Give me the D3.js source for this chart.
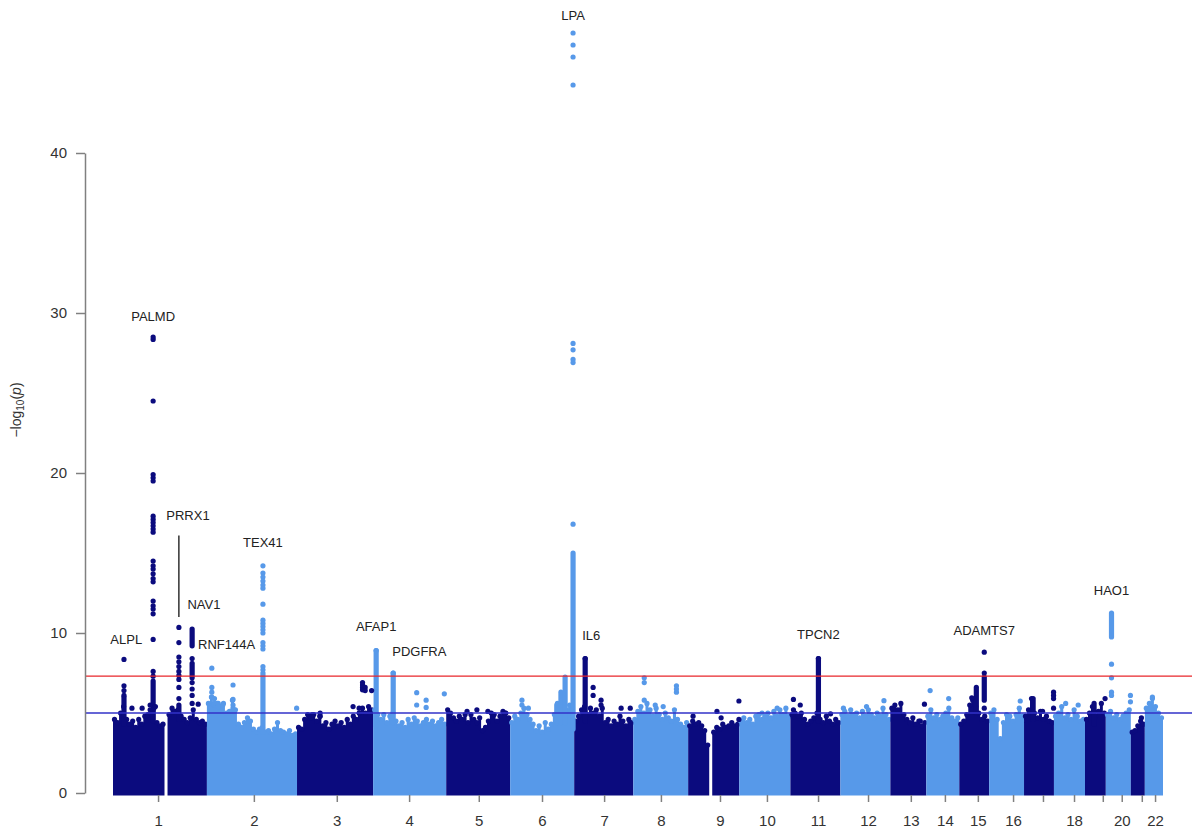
<!DOCTYPE html>
<html>
<head>
<meta charset="utf-8">
<script src="https://cdn.jsdelivr.net/npm/d3@7/dist/d3.min.js"></script>
<style>
body { margin: 0; background: #fff; }
#graphic1 text { font-family: "Liberation Sans", Arial, Helvetica, sans-serif; }
</style>
</head>
<body>
<div id="graphic1"></div>
<script>
// chromosome spans (Mb of genotyped region) and tick midpoints within each chromosome
var chromosomes = d3.range(1, 23),
    chrLength = [248, 238, 201, 193, 169, 169, 156, 145, 135, 135, 132, 132, 95, 87, 79, 92, 79, 82, 55, 66, 37, 48],
    chrTick = [119, 124, 105, 95, 86, 84, 79, 73, 84, 73, 73, 73, 54, 49, 49, 63, 50, 53, 47, 42, 29, 27],
    tickLabels = ["1", "2", "3", "4", "5", "6", "7", "8", "9", "10", "11", "12", "13", "14", "15", "16", "", "18", "", "20", "", "22"];

// upper edge of the dense SNP cloud, -log10(p), evenly binned along each chromosome (0 = no SNPs)
var bulkTop = [
    [4.6, 4.4, 5.0, 5.4, 4.6, 4.3, 4.5, 4.1, 4.6, 4.3, 4.8, 4.9, 5.0, 5.3, 4.4, 4.2, 4.3, 0, 4.9, 5.3, 5.1, 5.2, 4.8, 4.6, 4.4, 4.7, 5.2, 4.6, 4.4, 4.5, 4.3],
    [5.6, 6.0, 5.5, 5.6, 5.4, 5.6, 5.0, 5.1, 5.8, 5.2, 4.3, 4.1, 4.4, 4.7, 4.5, 4.0, 3.8, 4.0, 4.1, 3.8, 3.9, 3.7, 4.0, 4.4, 3.9, 3.8, 3.7, 3.9, 3.6, 3.7],
    [4.1, 4.0, 4.6, 4.9, 4.7, 4.9, 4.5, 4.8, 4.2, 4.4, 4.0, 4.3, 4.5, 4.2, 4.4, 4.1, 4.6, 4.3, 4.8, 4.6, 5.0, 5.3, 5.0, 5.4, 5.2],
    [5.2, 4.9, 4.6, 4.9, 4.4, 4.8, 5.0, 4.5, 4.2, 4.4, 4.1, 4.6, 4.3, 4.7, 4.5, 4.2, 4.4, 4.6, 4.3, 4.5, 4.2, 4.4, 4.6, 4.3],
    [5.2, 5.0, 4.7, 4.5, 4.8, 4.6, 4.9, 4.4, 4.9, 4.6, 4.4, 4.7, 3.9, 4.1, 4.5, 5.0, 4.9, 4.5, 4.8, 5.1, 5.0, 4.7],
    [4.4, 4.8, 4.6, 5.0, 5.3, 4.9, 4.6, 4.3, 3.9, 4.2, 3.8, 4.4, 4.0, 4.3, 4.9, 5.6, 5.0, 5.7, 5.2, 5.5, 4.9],
    [4.5, 4.8, 5.2, 5.4, 4.9, 5.3, 5.0, 5.2, 4.8, 5.3, 4.4, 4.6, 4.2, 4.5, 4.3, 4.8, 4.5, 4.2, 4.6, 4.4],
    [4.6, 5.1, 5.4, 5.0, 5.6, 5.2, 4.8, 5.3, 4.9, 4.6, 5.0, 4.7, 4.5, 5.2, 4.6, 4.3, 4.1, 4.4],
    [4.2, 4.5, 4.3, 4.4, 4.2, 3.9, 3.0, 0, 3.8, 4.1, 4.0, 4.3, 4.1, 4.2, 4.4, 4.2, 4.3],
    [4.5, 4.7, 4.4, 4.6, 4.3, 4.8, 4.9, 4.6, 4.8, 5.0, 4.7, 5.1, 4.8, 5.2, 4.9, 5.3, 4.8],
    [4.9, 5.0, 4.8, 5.0, 4.6, 4.3, 4.5, 4.7, 5.0, 4.6, 4.4, 4.8, 4.5, 4.3, 4.6, 4.4],
    [4.9, 5.1, 4.8, 5.2, 4.9, 5.0, 4.7, 5.1, 4.8, 5.2, 4.9, 4.7, 5.0, 4.8, 5.3, 4.9, 4.6],
    [5.3, 5.5, 5.2, 5.6, 4.9, 4.6, 4.4, 4.7, 4.3, 4.5, 4.2, 4.4],
    [4.8, 5.2, 4.7, 4.9, 4.6, 4.8, 5.0, 5.3, 4.7, 4.5, 4.7],
    [4.3, 4.5, 4.9, 5.5, 5.8, 5.4, 5.0, 4.6, 4.8, 4.5],
    [5.0, 5.2, 4.6, 3.4, 4.4, 4.9, 4.8, 4.5, 4.9, 5.3, 4.8],
    [4.8, 5.2, 5.9, 5.0, 4.7, 5.1, 4.6, 4.8, 4.5, 4.4],
    [4.8, 5.0, 5.4, 4.7, 4.9, 4.6, 5.2, 4.8, 4.5, 4.6],
    [4.6, 5.0, 5.4, 4.8, 5.1, 5.6, 5.0],
    [4.9, 5.1, 4.7, 4.9, 4.6, 4.8, 5.0, 5.2],
    [3.8, 3.9, 4.2, 4.5, 4.3],
    [5.3, 5.6, 5.9, 5.4, 5.0, 4.7]
];

// unbroken runs of SNPs: [chr, position (Mb), lowest, highest]
var denseRuns = [
    [1, 29, 4.3, 6.0], [1, 106, 4.5, 7.0], [1, 174, 4.6, 5.5], [1, 209, 9.2, 10.25], [1, 209, 7.2, 8.1],
    [2, 148, 3.8, 7.5],
    [4, 8, 4.2, 8.9], [4, 53, 4.4, 7.5],
    [6, 123, 4.4, 5.5], [6, 134, 4.4, 6.3], [6, 145, 4.4, 7.25], [6, 166, 4.0, 15.0],
    [7, 29, 4.5, 8.4],
    [11, 74, 4.5, 8.4],
    [15, 45, 5.0, 6.6], [15, 66, 5.8, 7.25],
    [17, 24, 4.6, 5.9],
    [19, 24, 4.3, 5.6],
    [20, 15, 9.75, 11.25]
];

// individual SNPs standing out: [chr, position (Mb), -log10(p) values]
var snpColumns = [
    [1, 29, [8.35, 6.7, 6.4, 6.1]], [1, 50, [5.3]], [1, 77, [5.3]], [1, 98, [5.5, 5.2]], [1, 112, [5.4]],
    [1, 106, [28.5, 28.35, 24.5, 19.9, 19.7, 19.5, 17.3, 17.1, 16.9, 16.7, 16.5, 16.3, 14.5, 14.2, 14.0, 13.7, 13.4, 13.2, 12.0, 11.7, 11.5, 11.2, 9.6, 7.6, 7.3]],
    [1, 174, [10.35, 9.4, 8.5, 8.2, 7.9, 7.6, 7.35, 7.1, 6.6, 5.9]],
    [1, 209, [8.4, 6.9, 6.5, 6.1, 5.6]], [1, 225, [5.55]],
    [2, 13, [7.8, 6.6, 6.3, 6.0]], [2, 20, [5.9, 5.6]], [2, 30, [5.6, 5.4]], [2, 42, [5.5]], [2, 69, [6.75, 5.85, 5.5, 5.3]],
    [2, 148, [14.2, 13.75, 13.5, 13.25, 13.0, 12.8, 11.8, 10.8, 10.6, 10.4, 10.2, 10.0, 9.4, 9.2, 9.0, 7.9, 7.7]],
    [2, 237, [5.3]],
    [3, 40, [4.9]], [3, 61, [5.0, 4.8]], [3, 148, [5.4]], [3, 164, [5.3, 5.0]], [3, 173, [6.9, 6.75, 6.6, 6.45]], [3, 180, [6.6, 6.4]], [3, 197, [6.4]],
    [4, 8, [8.9]], [4, 53, [7.5]], [4, 115, [6.27, 5.5]], [4, 140, [5.8, 5.35]], [4, 188, [6.2]],
    [5, 55, [5.1]], [5, 81, [5.2]], [5, 110, [5.1]], [5, 156, [5.0]],
    [6, 31, [5.8, 5.5]], [6, 48, [5.3]],
    [6, 166, [47.5, 46.75, 46.0, 44.25, 28.1, 27.7, 27.1, 26.9, 16.8]],
    [7, 29, [8.4]], [7, 50, [6.6, 6.1]], [7, 71, [5.8, 5.5]], [7, 124, [5.3]], [7, 148, [5.3]],
    [8, 29, [7.2, 6.9, 5.8]], [8, 58, [5.5]], [8, 79, [5.4]], [8, 114, [6.7, 6.5, 6.3]],
    [9, 13, [4.8]], [9, 76, [5.1]], [9, 87, [4.7]], [9, 134, [5.75, 4.6]],
    [10, 60, [5.0]], [10, 100, [5.3]],
    [11, 8, [5.85, 5.2]], [11, 26, [5.5]], [11, 74, [8.4]], [11, 106, [4.95]],
    [12, 8, [5.3]], [12, 69, [5.4]], [12, 115, [5.77]],
    [13, 79, [4.5]], [13, 90, [5.55]],
    [14, 10, [6.4]], [14, 59, [5.9]],
    [15, 33, [5.95]], [15, 66, [8.8, 7.5, 5.3]],
    [16, 82, [5.75]],
    [17, 49, [5.1]], [17, 78, [6.3, 6.1, 5.9, 5.3]],
    [18, 31, [5.6]], [18, 64, [5.5]],
    [19, 53, [5.9]],
    [20, 15, [8.05, 7.2, 6.3, 6.1]], [20, 65, [6.1, 5.7]],
    [21, 28, [4.7]],
    [22, 20, [6.0]]
];

// gene annotations: [name, chr, position (Mb), label height in -log10(p)]
var geneLabels = [
    ["LPA", 6, 166, 48.3], ["PALMD", 1, 106, 29.5], ["PRRX1", 1, 198, 17.05], ["NAV1", 1, 240, 11.5],
    ["RNF144A", 1, 300, 9.0], ["ALPL", 1, 35, 9.3], ["TEX41", 2, 148, 15.4], ["AFAP1", 4, 8, 10.1],
    ["PDGFRA", 4, 122, 8.55], ["IL6", 7, 45, 9.55], ["TPCN2", 11, 74, 9.6], ["ADAMTS7", 15, 66, 9.9],
    ["HAO1", 20, 15, 12.4]
];
var prrx1Leader = [1, 174, 11.0, 16.1];

var thresholds = [[7.3, "#e8262b"], [5, "#3232c8"]];
var yTicks = [0, 10, 20, 30, 40];

var DARK = "#0b0b7e",
    LIGHT = "#5799e9",
    R = 2.6;

function graph1() {

    var width = 1200,
        height = 833;

    var chrStart = [],
        acc = 0;
    chrLength.forEach(function (l) {
        chrStart.push(acc);
        acc += l;
    });

    function gx(chr, pos) {
        return chrStart[chr - 1] + pos;
    }

    function colour(chr) {
        return (chr % 2 == 1) ? DARK : LIGHT;
    }

    var x = d3.scaleLinear().domain([0, acc]).range([113, 1163]),
        y = d3.scaleLinear().domain([0, 40]).range([793, 153]);

    d3.select("#graphic1").selectAll("*").remove();

    var svg = d3.select("#graphic1").append("svg")
        .attr("width", width)
        .attr("height", height);

    // dense cloud
    var area = d3.area()
        .defined(function (d) { return d.h > 0; })
        .x(function (d) { return x(d.x); })
        .y0(y(0) + R)
        .y1(function (d) { return y(d.h); });

    var cloud = svg.append("g").attr("class", "cloud");

    bulkTop.forEach(function (tops, i) {
        var chr = i + 1,
            w = chrLength[i] / tops.length,
            pts = [],
            dots = [];
        tops.forEach(function (h, j) {
            var s = chrStart[i] + j * w;
            pts.push({x: s, h: h}, {x: s + w, h: h});
            if (h > 0) {
                dots.push({x: s + w * 0.5, h: h});
            }
        });
        cloud.append("path")
            .datum(pts)
            .attr("d", area)
            .attr("fill", colour(chr));
        cloud.selectAll(null)
            .data(dots)
            .enter().append("circle")
            .attr("cx", function (d) { return x(d.x); })
            .attr("cy", function (d) { return y(d.h); })
            .attr("r", R)
            .attr("fill", colour(chr));
    });

    // runs
    svg.append("g").selectAll("line")
        .data(denseRuns)
        .enter().append("line")
        .attr("x1", function (d) { return x(gx(d[0], d[1])); })
        .attr("x2", function (d) { return x(gx(d[0], d[1])); })
        .attr("y1", function (d) { return y(d[2]); })
        .attr("y2", function (d) { return y(d[3]); })
        .attr("stroke", function (d) { return colour(d[0]); })
        .attr("stroke-width", R * 2)
        .attr("stroke-linecap", "round");

    // single snps
    var snps = [];
    snpColumns.forEach(function (c) {
        c[2].forEach(function (v) {
            snps.push({chr: c[0], pos: c[1], p: v});
        });
    });

    svg.append("g").selectAll("circle")
        .data(snps)
        .enter().append("circle")
        .attr("cx", function (d) { return x(gx(d.chr, d.pos)); })
        .attr("cy", function (d) { return y(d.p); })
        .attr("r", R)
        .attr("fill", function (d) { return colour(d.chr); });

    // significance lines
    svg.append("g").selectAll("line")
        .data(thresholds)
        .enter().append("line")
        .attr("x1", 86)
        .attr("x2", 1192)
        .attr("y1", function (d) { return y(d[0]); })
        .attr("y2", function (d) { return y(d[0]); })
        .attr("stroke", function (d) { return d[1]; })
        .attr("stroke-width", 1.3);

    // y axis
    var yAxis = svg.append("g")
        .attr("transform", "translate(85,0)")
        .call(d3.axisLeft(y).tickValues(yTicks).tickSize(9).tickSizeOuter(0).tickPadding(9));
    yAxis.select(".domain").attr("stroke", "#808080").attr("stroke-width", 1.5);
    yAxis.selectAll(".tick line").attr("stroke", "#808080").attr("stroke-width", 1.5);
    yAxis.selectAll(".tick text").attr("font-size", 15).attr("fill", "#333");

    // x axis
    var xAxis = svg.append("g")
        .attr("transform", "translate(0,795)")
        .call(d3.axisBottom(x)
            .tickValues(chromosomes.map(function (c) { return gx(c, chrTick[c - 1]); }))
            .tickFormat(function (d, i) { return tickLabels[i]; })
            .tickSize(7).tickPadding(13));
    xAxis.select(".domain").remove();
    xAxis.selectAll(".tick line").attr("stroke", "#808080").attr("stroke-width", 1.5);
    xAxis.selectAll(".tick text").attr("font-size", 15).attr("fill", "#333");

    // y label
    var yl = svg.append("text")
        .attr("transform", "translate(21,410) rotate(-90)")
        .attr("text-anchor", "middle")
        .attr("font-size", 14)
        .attr("fill", "#333");
    yl.append("tspan").text("\u2212log");
    yl.append("tspan").attr("font-size", 10).attr("dy", 3).text("10");
    yl.append("tspan").attr("dy", -3).text("(");
    yl.append("tspan").attr("font-style", "italic").text("p");
    yl.append("tspan").text(")");

    // gene labels
    svg.append("g").selectAll("text")
        .data(geneLabels)
        .enter().append("text")
        .attr("x", function (d) { return x(gx(d[1], d[2])); })
        .attr("y", function (d) { return y(d[3]); })
        .attr("text-anchor", "middle")
        .attr("font-size", 13)
        .attr("fill", "#222")
        .text(function (d) { return d[0]; });

    svg.append("line")
        .attr("x1", x(gx(prrx1Leader[0], prrx1Leader[1])))
        .attr("x2", x(gx(prrx1Leader[0], prrx1Leader[1])))
        .attr("y1", y(prrx1Leader[2]))
        .attr("y2", y(prrx1Leader[3]))
        .attr("stroke", "#111")
        .attr("stroke-width", 1.3);
}

graph1();
</script>
</body>
</html>
